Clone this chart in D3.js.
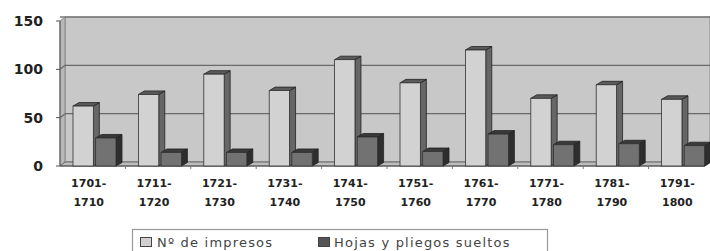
<!DOCTYPE html>
<html><head><meta charset="utf-8">
<script src="https://cdn.jsdelivr.net/npm/d3@7/dist/d3.min.js"></script>
<style>body{margin:0;background:#fff}svg{display:block}</style>
</head><body>
<svg id="c" width="710" height="251"></svg>
<script>
const categories = [["1701-","1710"],["1711-","1720"],["1721-","1730"],["1731-","1740"],["1741-","1750"],["1751-","1760"],["1761-","1770"],["1771-","1780"],["1781-","1790"],["1791-","1800"]];
const seriesNames = ["Nº de impresos","Hojas y pliegos sueltos"];
const impresos = [62, 74, 95, 78, 110, 86, 120, 70, 84, 69];
const hojas = [29, 14, 14, 14, 30, 15, 33, 22, 23, 21];
const yTicks = [0, 50, 100, 150];

const svg = d3.select("#c");
const DX = 5, DY = -4;       // wall depth
const BX = 6, BY = -3.5;     // bar depth
const x = d3.scaleBand().domain(d3.range(categories.length)).range([56, 710]).paddingInner(0);
const xs = d3.scaleBand().domain([0,1]).range([17, 60]).paddingInner(0.1);
const y = d3.scaleLinear().domain([0,150]).range([166, 21]);

const left = 60, right = 705;
svg.append("rect").attr("x", left+DX).attr("y", y(150)+DY).attr("width", right-left).attr("height", y(0)-y(150))
  .attr("fill", "#c8c8c8").attr("stroke", "#8a8a8a").attr("stroke-width", 1);
svg.append("polygon").attr("points", [[left,y(0)],[left+DX,y(0)+DY],[left+DX,y(150)+DY],[left,y(150)]].join(" "))
  .attr("fill", "#b8b8b8").attr("stroke", "#8a8a8a");
svg.append("polygon").attr("points", [[left,y(0)],[left+DX,y(0)+DY],[right+DX,y(0)+DY],[right,y(0)]].join(" "))
  .attr("fill", "#bdbdbd").attr("stroke", "#666");
yTicks.filter(v=>v>0 && v<150).forEach(v=>{
  svg.append("line").attr("x1", left+DX).attr("x2", right+DX).attr("y1", y(v)+DY).attr("y2", y(v)+DY)
    .attr("stroke", "#6a6a6a").attr("stroke-width", 1.3);
  svg.append("line").attr("x1", left).attr("x2", left+DX).attr("y1", y(v)).attr("y2", y(v)+DY)
    .attr("stroke", "#6a6a6a").attr("stroke-width", 1.3);
});
svg.append("line").attr("x1", left).attr("x2", right+DX).attr("y1", y(150)+DY).attr("y2", y(150)+DY).attr("stroke","#7a7a7a").attr("stroke-width",1.5);
svg.append("line").attr("x1", left).attr("x2", left).attr("y1", y(0)).attr("y2", y(150)).attr("stroke", "#555").attr("stroke-width", 1);
yTicks.forEach(v=>{
  svg.append("line").attr("x1", left-4).attr("x2", left).attr("y1", y(v)).attr("y2", y(v)).attr("stroke", "#555");
  svg.append("text").attr("x", 43).attr("y", y(v)).attr("dy", "0.36em").attr("text-anchor", "end")
    .attr("font-family", "DejaVu Sans").attr("font-weight", "bold").attr("font-size", 14).attr("fill", "#222").text(v);
});
svg.append("line").attr("x1", left).attr("x2", right).attr("y1", y(0)).attr("y2", y(0)).attr("stroke", "#555");
d3.range(1, categories.length).forEach(i=>{
  svg.append("line").attr("x1", x(i)+4).attr("x2", x(i)+4).attr("y1", y(0)).attr("y2", y(0)+3).attr("stroke", "#777");
});

const styles = [
  {front:"#d2d2d2", top:"#5a5a5a", side:"#666"},
  {front:"#727272", top:"#3a3a3a", side:"#2e2e2e"}
];
const data = [impresos, hojas];
categories.forEach((c,i)=>{
  [0,1].forEach(s=>{
    const v = data[s][i];
    const x0 = x(i)+xs(s), w = xs.bandwidth(), yt = y(v), yb = y(0);
    const g = svg.append("g");
    g.append("polygon").attr("points", [[x0+w,yb],[x0+w+BX,yb+BY],[x0+w+BX,yt+BY],[x0+w,yt]].join(" "))
      .attr("fill", styles[s].side).attr("stroke", "#222").attr("stroke-width", 0.8);
    g.append("polygon").attr("points", [[x0,yt],[x0+BX,yt+BY],[x0+w+BX,yt+BY],[x0+w,yt]].join(" "))
      .attr("fill", styles[s].top).attr("stroke", "#222").attr("stroke-width", 0.8);
    g.append("rect").attr("x", x0).attr("y", yt).attr("width", w).attr("height", yb-yt)
      .attr("fill", styles[s].front).attr("stroke", "#333").attr("stroke-width", 0.8);
  });
});
categories.forEach((c,i)=>{
  const t = svg.append("text").attr("x", x(i)+x.bandwidth()/2).attr("y", 187).attr("text-anchor","middle")
    .attr("font-family","DejaVu Sans").attr("font-weight","bold").attr("font-size",11).attr("fill","#222");
  t.append("tspan").attr("x", x(i)+x.bandwidth()/2).attr("y", 187).text(c[0]);
  t.append("tspan").attr("x", x(i)+x.bandwidth()/2).attr("y", 206).text(c[1]);
});
svg.append("rect").attr("x", 132.5).attr("y", 229.5).attr("width", 415).attr("height", 30)
  .attr("fill", "#fff").attr("stroke", "#999").attr("stroke-width", 1.2);
const lg = [{x:140, tx:157, fill:"#d0d0d0"}, {x:318, tx:334, fill:"#555"}];
seriesNames.forEach((n,i)=>{
  svg.append("rect").attr("x", lg[i].x+0.5).attr("y", 237.5).attr("width", 11).attr("height", 9)
    .attr("fill", lg[i].fill).attr("stroke", "#444");
  svg.append("text").attr("x", lg[i].tx).attr("y", 247).attr("font-family","DejaVu Sans").attr("font-size",13)
    .attr("letter-spacing", 1.2).attr("fill","#444").text(n);
});
</script>
</body></html>
